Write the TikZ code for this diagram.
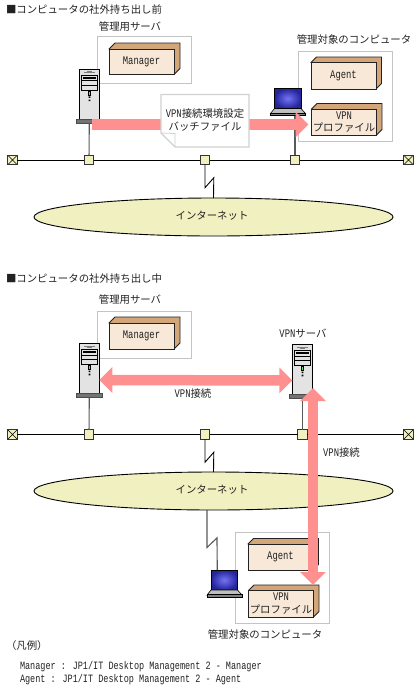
\documentclass[tikz,border=0pt]{standalone}
\usepackage{fontspec}
\setmainfont{Noto Sans CJK JP}
\newfontfamily\latfont[FakeStretch=0.76,Scale=1.12]{Liberation Mono}
\usetikzlibrary{arrows.meta, positioning, shapes.geometric, calc}
\definecolor{vpnpink}{HTML}{FF9090}
\definecolor{hubcol}{HTML}{F0F0C0}
\definecolor{blockfront}{HTML}{F8E8D8}
\definecolor{blockside}{HTML}{D2A679}
\definecolor{framecol}{HTML}{C4C4C4}
\definecolor{inkcol}{HTML}{222222}
\definecolor{screenlit}{HTML}{7474F4}
\definecolor{screendim}{HTML}{24249C}

% block with a top and a side face
\newcommand{\blockunit}[7]{% name, x, y, w, h, depth, text
  \fill[blockside, draw=inkcol, line width=0.8pt] (#2,#3) -- ++(#6,-#6) -- ++(#4,0) -- ++(0,#5) -- ++(-#6,#6) -- cycle;
  \node[block, minimum width=#4pt, minimum height=#5pt, anchor=north west] (#1) at (#2,#3) {#7};
}
% floor standing server, #2 and #3 are the top left of its body
\newcommand{\serverunit}[3]{%
  \node[srvbody, anchor=north west] (#1) at (#2,#3) {};
  \node[srvbase, below=-1pt of #1] (#1-base) {};
  \begin{scope}[shift={(#2,#3)}]
    \draw[gray, line width=1pt] (4.5,3) -- (15.5,3);
    \fill[gray] (7.5,2) rectangle (12.5,4);
    \draw[black, line width=0.7pt] (2.2,5.7) rectangle (18,20.7);
    \draw[black, line width=0.7pt] (2.2,11.4) -- (18,11.4) (2.2,15.7) -- (18,15.7);
    \fill[black] (4,7.2) rectangle (16.2,9.2);
    \draw[black, fill=green!70!white, line width=0.6pt] (8.8,21.8) rectangle (11.2,25.5);
    \fill[black] (9.2,27) rectangle (11,28.6) (9.2,30.2) rectangle (11,31.8);
  \end{scope}
}
% notebook, #2 and #3 are the top left of its screen
\newcommand{\laptopunit}[3]{%
  \node[lapscreen, anchor=north west] (#1) at (#2,#3) {};
  \begin{scope}[shift={(#2,#3)}]
    \fill[lightgray, draw=black, line width=0.6pt] (0,20) -- (26.5,20) -- (31,25) -- (-4,25) -- cycle;
    \node[lapbase, anchor=north west] (#1-base) at (-4,24.5) {};
  \end{scope}
}

\begin{document}
\begin{tikzpicture}[
  x=1pt, y=-1pt,
  every node/.style={font=\fontsize{10.4}{13.5}\selectfont, text=inkcol, inner sep=0pt, outer sep=0pt},
  latin/.style={font=\latfont\fontsize{10}{13}\selectfont},
  frame/.style={draw=framecol, line width=1pt, fill=white, minimum width=94pt},
  block/.style={draw=inkcol, line width=1pt, fill=blockfront, align=center},
  srvbody/.style={draw=black, line width=0.9pt, fill=black!11, minimum width=20pt, minimum height=51pt},
  srvbase/.style={draw=black!70, line width=0.6pt, fill=black!55, minimum width=26pt, minimum height=4pt},
  lapscreen/.style={draw=black, line width=1pt, minimum width=26.5pt, minimum height=20pt,
    inner color=screenlit, outer color=screendim},
  lapbase/.style={draw=black, line width=0.6pt, fill=gray, minimum width=35pt, minimum height=2.5pt},
  hub/.style={draw=black!80, line width=0.9pt, fill=hubcol, minimum size=9.5pt},
  endcap/.style={hub, path picture={\draw[black, line width=0.6pt]
    (path picture bounding box.north west) -- (path picture bounding box.south east)
    (path picture bounding box.north east) -- (path picture bounding box.south west);}},
  cloudnet/.style={ellipse, draw=black, line width=0.9pt, fill=hubcol, minimum width=359pt, minimum height=38pt},
  lan/.style={black, line width=0.9pt},
  link/.style={black!65, line width=1.1pt},
  bigarr/.style={draw=vpnpink, line width=10.5pt, {Triangle[length=13pt,width=25pt]}-{Triangle[length=13pt,width=25pt]}},
  onearr/.style={draw=vpnpink, line width=10.5pt, -{Triangle[length=13pt,width=25pt]}}
]
\useasboundingbox (0,0) rectangle (416,689);

% before taking the computer out
\node[anchor=west] (titleA) at (6,10) {■コンピュータの社外持ち出し前};
\node (mgrlabelA) at (130,27) {管理用サーバ};
\node[frame, minimum height=47pt, anchor=north west] (mgrframeA) at (97,36) {};
\blockunit{mgrA}{109}{49}{65}{25.5}{6}{\latfont Manager}
\serverunit{srvA}{79.3}{69.3}

\node (pclabelA) at (354,40) {管理対象のコンピュータ};
\node[frame, minimum height=90pt, anchor=north west] (pcframeA) at (298.5,51) {};
\blockunit{agentA}{311}{62.5}{65}{26.5}{5.5}{\latfont Agent}
\blockunit{vpnA}{311.5}{109}{65}{26}{5.5}{\latfont VPN\\[-1pt]プロファイル}
\laptopunit{lapA}{274.5}{88.5}

\node[hub] (hubA) at (89,160) {};
\node[hub] (hubB) at (205,160) {};
\node[hub] (hubC) at (295,160) {};
\node[endcap] (endA) at (12.5,160) {};
\node[endcap] (endB) at (408.5,160) {};
\node[cloudnet] (netA) at (213.5,217) {};
\node (netlabelA) at (212,216) {インターネット};

\draw[lan] (endA) -- (hubA);
\draw[lan] (hubA) -- (hubB);
\draw[lan] (hubB) -- (hubC);
\draw[lan] (hubC) -- (endB);
\draw[link] (srvA-base) -- (hubA);
\draw[link] (lapA-base.south -| hubC.north) -- (hubC);
\draw[lan] (hubB.south) -- ++(0,23) -- ++(8.8,-10) -- (netA.north);

\coordinate (sendfrom) at (92,124.5);
\coordinate (sendto) at (308.5,124.5);
\draw[onearr] (sendfrom) -- (sendto);
\draw[draw=black!18, line width=1.2pt, fill=white] (161,94.5) -- (249,94.5) -- (249,147) -- (175,147) -- (161,133) -- cycle;
\draw[draw=black!18, line width=0.8pt] (161,133) -- (175,133.5) -- (175,147);
\node[align=center] (batchfile) at (205,120) {{\latfont VPN}接続環境設定\\バッチファイル};

% while the computer is out
\node[anchor=west] (titleB) at (6,279) {■コンピュータの社外持ち出し中};
\node (mgrlabelB) at (130,300) {管理用サーバ};
\node[frame, minimum height=47pt, anchor=north west] (mgrframeB) at (97,311) {};
\blockunit{mgrB}{109}{323}{65}{26}{6}{\latfont Manager}
\serverunit{srvC}{79.3}{343.5}
\node (vpnlabel) at (303,333) {{\latfont VPN}サーバ};
\serverunit{srvD}{292.3}{344.5}

\node[hub] (hubD) at (89,434.5) {};
\node[hub] (hubE) at (205,434.5) {};
\node[hub] (hubF) at (302.3,434.5) {};
\node[endcap] (endC) at (12.5,434.5) {};
\node[endcap] (endD) at (408.5,434.5) {};
\node[cloudnet] (netB) at (213.5,491) {};
\node (netlabelB) at (212,490) {インターネット};

\draw[lan] (endC) -- (hubD);
\draw[lan] (hubD) -- (hubE);
\draw[lan] (hubE) -- (hubF);
\draw[lan] (hubF) -- (endD);
\draw[link] (srvC-base) -- (hubD);
\draw[link] (srvD-base) -- (hubF);
\draw[lan] (hubE.south) -- ++(0,23) -- ++(8.8,-10) -- (netB.north);

\node[frame, minimum height=91pt, anchor=north west] (pcframeB) at (235,532) {};
\blockunit{agentB}{248}{544}{65}{26}{5.5}{\latfont Agent}
\blockunit{vpnB}{248.5}{590.5}{65}{26.5}{5.5}{\latfont VPN\\[-1pt]プロファイル}
\laptopunit{lapB}{211}{570}
\coordinate (lapBtop) at (217.3,570);
\draw[link] (netB.251) -- ++(0,37.5) -- ++(10,-9.5) -- (lapBtop);
\node (pclabelB) at (265,635) {管理対象のコンピュータ};

\draw[bigarr] ([yshift=-11pt]srvC.east) -- ([yshift=-10.5pt]srvD.west);
\node[align=center] (tunnelA) at (193,394) {{\latfont VPN}接続};
\coordinate (tunneltop) at (313,388);
\coordinate (tunnelend) at (313,585);
\draw[bigarr] (tunneltop) -- (tunnelend);
\node (tunnelB) at (341.5,453) {{\latfont VPN}接続};

% legend
\node[anchor=west] (legendhead) at (6,646) {（凡例）};
\node[latin, anchor=west] (legendA) at (20,667) {Manager : JP1/IT Desktop Management 2 - Manager};
\node[latin, anchor=west] (legendB) at (20,680) {Agent : JP1/IT Desktop Management 2 - Agent};
\end{tikzpicture}
\end{document}
